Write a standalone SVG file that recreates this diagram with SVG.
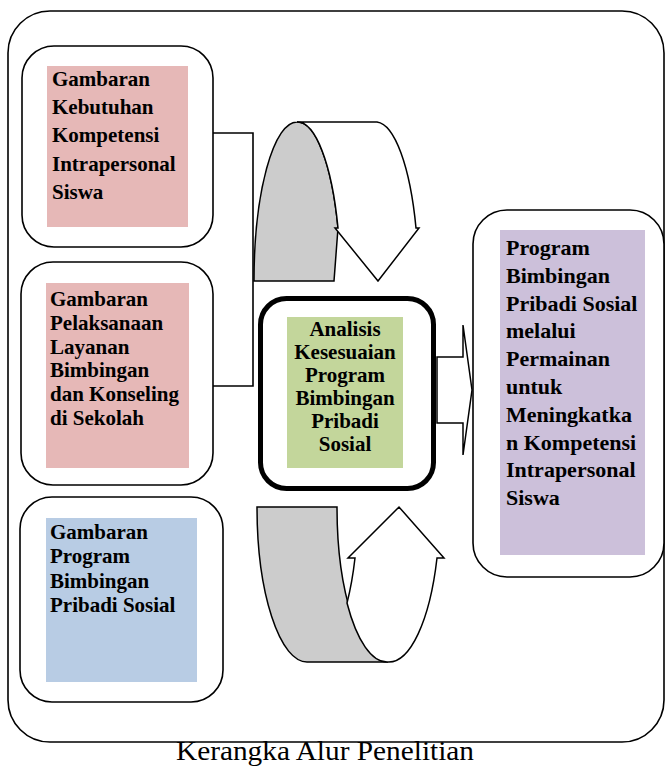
<svg xmlns="http://www.w3.org/2000/svg" width="666" height="767" viewBox="0 0 666 767">
<style>
.frame{fill:#fff;stroke:#000;stroke-width:1.6}
.t{font-family:"Liberation Serif","Times New Roman",serif;font-weight:bold;fill:#000}
.ln{fill:none;stroke:#000;stroke-width:1.6}
.sh{stroke:#000;stroke-width:1.5;stroke-linejoin:miter}
</style>
<rect x="8" y="11" width="656" height="731" rx="42" ry="42" fill="#fff" stroke="#000" stroke-width="1.6"/>

<g id="connectors">
<polyline class="ln" points="213,133 253,133 253,386 213,386"/>
<path class="sh" fill="#cccccc" d="M254,281 A43,159 0 0 1 297,122 A43,159 0 0 1 338,228 L334,281 Z"/>
<path class="sh" fill="#fff" d="M297,122 L377,122 A43,159 0 0 1 416,228 L419,228 L378,281 L335,228 L338,228 A43,159 0 0 0 297,122 Z"/>
<path class="sh" fill="#cccccc" d="M257,507 L337,507 A51,155 0 0 0 388,662 L307,662 A50,155 0 0 1 257,507 Z"/>
<path class="sh" fill="#fff" d="M388,662 A51,155 0 0 0 437,558 L444,558 L399,507 L348,558 L355,558 A50,155 0 0 1 347,603 A51,155 0 0 0 388,662 Z"/>
<path class="sh" fill="#fff" d="M437,357 L463,357 L463,325 L472,390 L463,455 L463,423 L437,423 Z"/>
</g>

<g id="node-kebutuhan">
<rect class="frame" x="22" y="46" width="191" height="201" rx="32"/>
<rect x="47" y="66" width="141" height="161" fill="#e6b8b7"/>
<text class="t" font-size="21"><tspan x="52" y="86">Gambaran</tspan><tspan x="52" y="114">Kebutuhan</tspan><tspan x="52" y="142">Kompetensi</tspan><tspan x="52" y="171">Intrapersonal</tspan><tspan x="52" y="199">Siswa</tspan></text>
</g>

<g id="node-pelaksanaan">
<rect class="frame" x="21" y="262" width="192" height="223" rx="32"/>
<rect x="46" y="283" width="143" height="185" fill="#e6b8b7"/>
<text class="t" font-size="21"><tspan x="50" y="306">Gambaran</tspan><tspan x="50" y="330">Pelaksanaan</tspan><tspan x="50" y="354">Layanan</tspan><tspan x="50" y="377">Bimbingan</tspan><tspan x="50" y="401">dan Konseling</tspan><tspan x="50" y="425">di Sekolah</tspan></text>
</g>

<g id="node-program">
<rect class="frame" x="20" y="497" width="203" height="205" rx="32"/>
<rect x="46" y="518" width="151" height="164" fill="#b8cce4"/>
<text class="t" font-size="21"><tspan x="50" y="539">Gambaran</tspan><tspan x="50" y="563">Program</tspan><tspan x="50" y="588">Bimbingan</tspan><tspan x="50" y="612">Pribadi Sosial</tspan></text>
</g>

<g id="node-analisis">
<rect x="260.5" y="298.5" width="173" height="190" rx="26" fill="#fff" stroke="#000" stroke-width="5"/>
<rect x="287" y="317" width="116" height="151" fill="#c3d69b"/>
<text class="t" font-size="21" text-anchor="middle"><tspan x="345" y="336">Analisis</tspan><tspan x="345" y="359">Kesesuaian</tspan><tspan x="345" y="382">Program</tspan><tspan x="345" y="405">Bimbingan</tspan><tspan x="345" y="428">Pribadi</tspan><tspan x="345" y="451">Sosial</tspan></text>
</g>

<g id="node-hasil">
<rect class="frame" x="473" y="210" width="191" height="367" rx="34"/>
<rect x="500" y="230" width="145" height="325" fill="#ccc0da"/>
<text class="t" font-size="22"><tspan x="506" y="255">Program</tspan><tspan x="506" y="283">Bimbingan</tspan><tspan x="506" y="311">Pribadi Sosial</tspan><tspan x="506" y="338">melalui</tspan><tspan x="506" y="366">Permainan</tspan><tspan x="506" y="394">untuk</tspan><tspan x="506" y="422">Meningkatka</tspan><tspan x="506" y="450">n Kompetensi</tspan><tspan x="506" y="477">Intrapersonal</tspan><tspan x="506" y="505">Siswa</tspan></text>
</g>

<text x="325" y="760" font-family="Liberation Serif,'Times New Roman',serif" font-size="28" text-anchor="middle" textLength="298" lengthAdjust="spacingAndGlyphs">Kerangka Alur Penelitian</text>
</svg>
